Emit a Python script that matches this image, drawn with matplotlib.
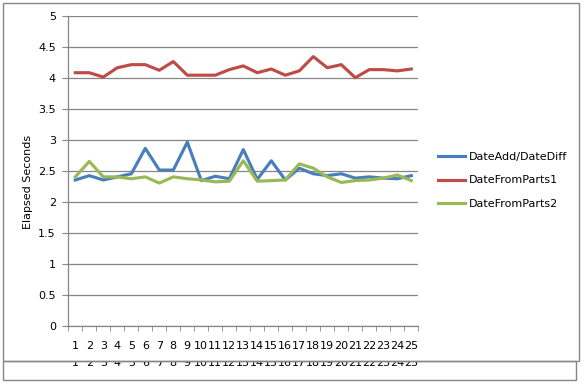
import matplotlib
matplotlib.use("Agg")
import matplotlib.pyplot as plt
from matplotlib.patches import Rectangle

plt.rcParams['font.family'] = ['DejaVu Sans']

runs = list(range(1, 26))
run_labels = [str(r) for r in runs]

date_add_diff = [2.36, 2.43, 2.36, 2.41, 2.46, 2.87, 2.52, 2.52, 2.97, 2.35,
                 2.42, 2.38, 2.85, 2.37, 2.67, 2.36, 2.55, 2.46, 2.43, 2.46,
                 2.39, 2.41, 2.39, 2.38, 2.43]
date_from_parts1 = [4.09, 4.09, 4.02, 4.17, 4.22, 4.22, 4.13, 4.27, 4.05, 4.05,
                    4.05, 4.14, 4.20, 4.09, 4.15, 4.05, 4.12, 4.35, 4.17, 4.22,
                    4.01, 4.14, 4.14, 4.12, 4.15]
date_from_parts2 = [2.41, 2.66, 2.41, 2.41, 2.38, 2.41, 2.31, 2.41, 2.38, 2.36,
                    2.33, 2.34, 2.67, 2.34, 2.35, 2.36, 2.62, 2.55, 2.41, 2.32,
                    2.35, 2.36, 2.39, 2.44, 2.35]
series_names = ['DateAdd/DateDiff', 'DateFromParts1', 'DateFromParts2']
series_colors = ['#4A7EBB', '#BE4B48', '#98B954']

W, H = 582, 383
fig = plt.figure(figsize=(W / 100, H / 100), dpi=100)

def fx(px):
    return px / W

def fy(py):
    return (H - py) / H

grey = '#868686'

# outer chart borders (main box plus the clipped duplicate strip below)
fig.patches.append(Rectangle((fx(2.7), fy(360.7)), fx(576), 358 / H, transform=fig.transFigure,
                             fill=False, edgecolor=grey, linewidth=1.0))
fig.patches.append(Rectangle((fx(2.7), fy(379.5)), fx(573), 18.8 / H, transform=fig.transFigure,
                             fill=False, edgecolor=grey, linewidth=1.0))

left, right, top, bottom = 68.3, 418.3, 16.3, 326.3
ax = fig.add_axes([fx(left), fy(bottom), fx(right - left), (bottom - top) / H])

for vals, name, col in zip([date_add_diff, date_from_parts1, date_from_parts2],
                           series_names, series_colors):
    ax.plot(runs, vals, color=col, linewidth=2.25, label=name)

ax.set_xlim(0.5, 25.5)
ax.set_ylim(0, 5)
ax.set_yticks([i * 0.5 for i in range(11)])
ax.set_yticklabels(['0', '0.5', '1', '1.5', '2', '2.5', '3', '3.5', '4', '4.5', '5'])
ax.set_xticks(runs)
ax.set_xticklabels(run_labels)
ax.set_xticks([r - 0.5 for r in runs] + [25.5], minor=True)
ax.tick_params(axis='x', which='major', length=0, pad=10.5, labelsize=8)
ax.tick_params(axis='x', which='minor', length=3.5, color=grey, direction='out')
ax.tick_params(axis='y', length=4, color=grey, pad=5, labelsize=8)
ax.grid(axis='y', color=grey, linewidth=0.9)
ax.set_axisbelow(True)
for s in ['top', 'right']:
    ax.spines[s].set_visible(False)
for s in ['left', 'bottom']:
    ax.spines[s].set_color(grey)
    ax.spines[s].set_linewidth(0.9)

fig.text(fx(28), fy(182), 'Elapsed Seconds', rotation=90, ha='center', va='center', fontsize=8)

ax.legend(loc='center left', bbox_to_anchor=(fx(438), fy(180.5)), bbox_transform=fig.transFigure,
          frameon=False, fontsize=8, handlelength=2.4, handletextpad=0.35,
          labelspacing=1.25, borderpad=0, borderaxespad=0)

# duplicated label strip, top clipped just under the box edge
strip_top, strip_bottom = 362.0, 379.0
ax2 = fig.add_axes([fx(left), fy(strip_bottom), fx(right - left), (strip_bottom - strip_top) / H])
ax2.set_xlim(0.5, 25.5)
ax2.set_ylim(0, 1)
ax2.axis('off')
for r, lab in zip(runs, run_labels):
    ax2.text(r, (strip_bottom - 366.5) / (strip_bottom - strip_top), lab, ha='center',
             va='baseline', fontsize=8, clip_on=True)

fig.savefig('out.png', dpi=100)
